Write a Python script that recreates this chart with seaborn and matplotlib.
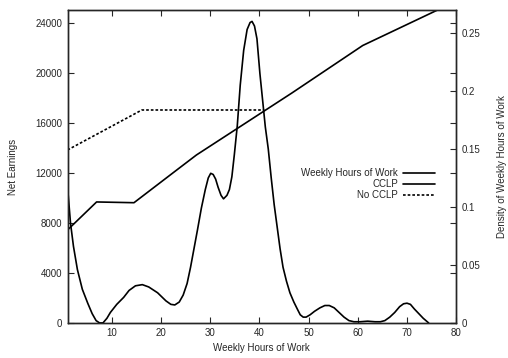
import matplotlib
matplotlib.use("Agg")

import matplotlib.pyplot as plt
import seaborn as sns

# datos
horas_ing = [1.0, 6.9, 14.5, 23.2, 27.2, 46.6, 61.0, 76.2, 80.0]
ing_cclp = [7440, 9680, 9620, 12240, 13440, 18400, 22200, 25040, 25750]

horas_nocclp = [1.0, 16.1, 41.0]
ing_nocclp = [13840, 17040, 17040]

horas_dens = [1.0, 1.6, 2.2, 3.0, 4.0, 5.1, 6.0, 6.8, 7.5, 8.2, 9.0, 9.7,
              11.0, 12.4, 13.5, 14.8, 16.2, 17.5, 19.3, 21.0, 22.0, 22.8,
              23.7, 24.5, 25.3, 26.0, 26.7, 27.4, 28.2, 29.0, 29.6, 30.1,
              30.6, 31.1, 31.6, 32.2, 32.7, 33.4, 33.9, 34.4, 34.9, 35.5,
              36.1, 36.8, 37.5, 38.1, 38.5, 39.0, 39.5, 40.1, 40.7, 41.2,
              41.8, 42.4, 43.0, 43.6, 44.2, 44.8, 45.5, 46.2, 47.0, 47.7,
              48.3, 48.9, 49.5, 50.3, 51.2, 52.3, 53.3, 54.2, 55.2, 56.2,
              57.2, 58.2, 59.2, 60.5, 62.0, 63.5, 64.6, 65.5, 66.5, 67.5,
              68.5, 69.3, 70.0, 70.7, 71.5, 72.4, 73.3, 74.4]
densidad = [0.117, 0.086, 0.066, 0.046, 0.029, 0.017, 0.008, 0.002, 0.0, 0.0,
            0.004, 0.009, 0.016, 0.022, 0.028, 0.032, 0.033, 0.031, 0.026,
            0.019, 0.016, 0.0155, 0.018, 0.024, 0.034, 0.048, 0.064, 0.080,
            0.099, 0.115, 0.125, 0.129, 0.128, 0.124, 0.117, 0.110, 0.107,
            0.110, 0.115, 0.126, 0.145, 0.170, 0.205, 0.235, 0.253, 0.259,
            0.260, 0.256, 0.245, 0.215, 0.190, 0.169, 0.150, 0.125, 0.102,
            0.083, 0.064, 0.048, 0.036, 0.026, 0.018, 0.012, 0.007, 0.005,
            0.005, 0.007, 0.010, 0.013, 0.015, 0.015, 0.013, 0.009, 0.005,
            0.002, 0.001, 0.001, 0.0015, 0.001, 0.001, 0.002, 0.005, 0.009,
            0.014, 0.0165, 0.017, 0.016, 0.012, 0.008, 0.004, 0.0]

yticks_izq = [0, 4000, 8000, 12000, 16000, 20000, 24000]
yticks_der = [0, 0.05, 0.1, 0.15, 0.2, 0.25]
xticks = [10, 20, 30, 40, 50, 60, 70, 80]

sns.set_style("ticks")
plt.rcParams['font.family'] = ['Liberation Sans', 'DejaVu Sans']
plt.rcParams['font.size'] = 7

fig = plt.figure(figsize=(5.08, 3.58), dpi=100)
ax = fig.add_axes([0.133, 0.098, 0.765, 0.874])
ax2 = ax.twinx()

lw = 1.2
sns.lineplot(x=horas_ing, y=ing_cclp, ax=ax, color="k", lw=lw, label="CCLP")
sns.lineplot(x=horas_nocclp, y=ing_nocclp, ax=ax, color="k", lw=lw,
             linestyle=(0, (1.6, 1.2)), label="No CCLP")
sns.lineplot(x=horas_dens, y=densidad, ax=ax2, color="k", lw=lw,
             label="Weekly Hours of Work")

ax.set_xlim(1, 80)
ax.set_ylim(0, 25040)
ax2.set_ylim(0, 0.2698)
ax.set_xticks(xticks)
ax.set_yticks(yticks_izq)
ax2.set_yticks(yticks_der)
ax2.set_yticklabels(["0", "0.05", "0.1", "0.15", "0.2", "0.25"])

ax.tick_params(axis="both", direction="in", length=4, width=0.8,
               top=True, right=True, labelsize=7, pad=4)
ax2.tick_params(axis="y", direction="in", length=4, width=0.8,
                labelsize=7, pad=4)

for a in (ax, ax2):
    for s in a.spines.values():
        s.set_linewidth(1.0)
        s.set_visible(True)

ax.set_xlabel("Weekly Hours of Work", fontsize=7, labelpad=3)
ax.set_ylabel("Net Earnings", fontsize=7, labelpad=12)
ax2.set_ylabel("Density of Weekly Hours of Work", fontsize=7, labelpad=12)

ax.get_legend().remove()
ax2.get_legend().remove()
h1, l1 = ax.get_legend_handles_labels()
h2, l2 = ax2.get_legend_handles_labels()
fig.legend(h2 + h1, l2 + l1, loc="upper right",
           bbox_to_anchor=(435 / 508, 1 - 168 / 358), frameon=False,
           markerfirst=False, fontsize=7, handlelength=3.3,
           handletextpad=0.5, labelspacing=0.1, borderpad=0,
           borderaxespad=0)

fig.savefig("out.png", dpi=100)
